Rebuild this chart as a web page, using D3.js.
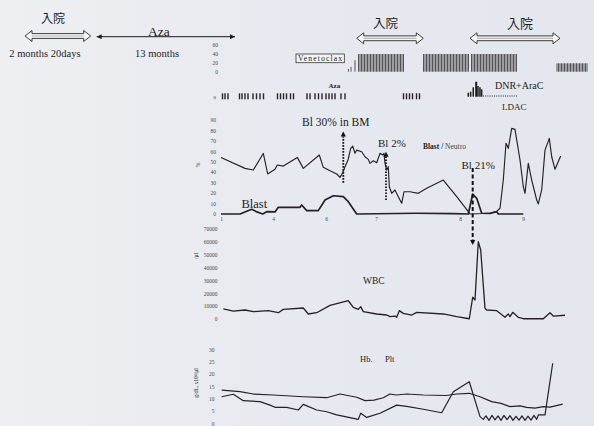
<!DOCTYPE html>
<html>
<head>
<meta charset="utf-8">
<script src="https://cdn.jsdelivr.net/npm/d3@7"></script>
<style>
  html, body { margin: 0; padding: 0; background: #e8eaf0; }
  svg { display: block; }
  text { font-family: "Liberation Serif", "DejaVu Serif", serif; fill: #1c1c1c; }
  .cjk { font-family: "Noto Sans CJK JP", sans-serif; }
  .tk text { font-family: "Liberation Serif", serif; font-size: 5.5px; fill: #4a4a4a; }
</style>
</head>
<body>
<svg id="chart" width="594" height="426"></svg>
<script>
// time axis (day index along the chart) and month tick labels
const monthTicks = [0, 52, 105, 155, 239, 302];
const monthLabels = ["1", "4", "6", "7", "8", "9"];

// Blast / Neutro (%)
const neutroT = [0,24,32.3,42.3,46.7,54,56.3,62.3,76.3,82.3,98.3,102.3,109,115.7,119,121.7,124,127,129.7,131.7,134,135.7,140.7,144,147.3,149,152.3,155.7,159,161.7,163,164,165.7,167.3,168.3,170.7,174,177.3,180.7,183,189,197.3,205.7,222.3,235.7,247.3,249,262,269,275.7,279,282.3,285,287.3,290.7,294,299,302.3,304,307.3,310.7,315.7,317.3,320.7,324,328.3,330.7,334,339.7];
const neutroV = [54,43.7,42.1,58,38.3,42.8,46.9,45.9,54.2,43.7,56.5,44.7,41.4,38.3,35.1,39.5,45.3,51.7,62.9,65.1,58.1,61.2,59.6,54.8,52.3,48.5,51,49.1,58.1,56.5,58.1,48.5,42.1,45.3,26.1,19.8,23,16.6,10.2,21.3,21.3,19.8,24.6,32.5,16.6,2.2,0,0.5,1,2.5,5.5,32.5,67.7,62.9,82,81,51.7,26.1,19.8,48.5,32.5,13.4,9.6,23,61.2,72.4,54.8,42.8,55.5];
const blastT = [0,19,30.7,36,41.7,45.7,54,57.3,79,80.7,85.7,97.3,104,112.3,122.3,127.3,135.7,195.7,232,247.3,251.7,255.7,260.7,269,275.7,277.3,302.3];
const blastV = [0,0,4.5,2,0,2.2,2,6.4,6.4,8.6,3.2,3.2,13.4,17.5,16.6,11.8,0,0.7,0.4,0,19.1,15,0.7,0.5,2.2,0,0];
const pctTicks = [0,10,20,30,40,50,60,70,80,90];

// WBC (/ul)
const wbcT = [2.3,12.3,24,32.3,47.3,57.3,62.3,82.3,87.3,95.7,109,127.3,132.3,137.3,139.7,142.3,155.7,165.7,169,174,175.7,178.3,182.3,190.7,195.7,222.3,235.7,248.3,251.7,254,257.3,259.7,264,265.7,275.7,284,287.3,289,291.7,297.3,302.3,322.3,329,332.3,344];
const wbcV = [7800,6200,7000,5700,6500,4900,7500,8550,3900,4900,10600,14200,9100,7500,9600,5700,3900,3100,1800,2300,1300,6500,4400,3100,5200,3900,1800,200,16900,14800,60100,53700,8300,7000,6500,1300,3900,1800,5200,1300,200,200,4900,2300,2900];
const wbcTicks = [0,10000,20000,30000,40000,50000,60000,70000];

// Hb (g/dL) and Plt (x10^4/ul)
const hbT = [0.7,19,32.3,52.3,82.3,105.7,119,135.7,144,153,162.3,169,175,185.7,202.3,225,235.7,248.3,259,270.7,280,289,299,305.7,314,322.3,329,341.7];
const hbV = [13.5,12.9,11.9,11.5,10.8,10.4,11.9,10.6,9.2,9.4,10.4,11.9,11.5,11.9,11.5,11.3,11.9,12.2,10.8,8.8,8.1,6.8,7.1,6.5,6.2,6.8,6.6,7.8];
const pltT = [0.7,12.3,22.3,39,49,54,65.7,77.3,82.3,95.7,105.7,115.7,137.3,139.7,145.7,159,175.7,185.7,202.3,220.7,232.3,248.3,259,262.3,265,268,271,274,277,280,283,286,289,292,295,298,301,304,307,310,313,315.7,317.3,324,331.7];
const pltV = [10.8,11.8,9.2,8.8,7.4,6.5,6.5,5.4,7.7,5.4,4.7,3.4,1.6,4.1,2.4,4.1,7.4,6.9,5.7,4.3,12.8,16.9,2.7,1.6,3,1.2,3.2,1.4,3,1.2,3.2,1.5,3.1,1.2,2.8,1.3,3,1.2,2.9,1.3,3.2,1.6,3.4,3.4,24.4];
const hbTicks = [0,5,10,15,20,25,30];

// Venetoclax daily dose (x10 mg)
const venRampT = [127.3,130,134];
const venRampDose = [6,11,26];
const venFullT = [137.5,139,140.5,142,143.5,145,146.5,148,149.5,151,152.5,154,155.5,157,158.5,160,161.5,163,164.5,166,167.5,169,170.5,172,173.5,175,176.5,178,179.5,181,182.5,
  202.5,204,205.5,207,208.5,210,211.5,213,214.5,216,217.5,219,220.5,222,223.5,225,226.5,228,229.5,231,232.5,234,235.5,237,238.5,240,241.5,243,244.5,246,247.5,
  250.5,252,253.5,255,256.5,258,259.5,261,262.5,264,265.5,267,268.5,270,271.5,273,274.5,276,277.5,279,280.5,282,283.5,285,286.5,288,289.5,291,292.5,294,295.5];
const venFullDose = 40;
const venLowT = [336,337.5,339,340.5,342,343.5,345,346.5,348,349.5,351,352.5,354,355.5,357,358.5,360,361.5,363,364.5,366];
const venLowDose = 19;
const venTicks = [0,20,40,60];

// Aza days, DNR+AraC, LDAC
const azaT = [1.5,4,7,18.5,21,24,27,32,35.5,39,42.5,56.5,59.5,62.5,65.5,69.5,72.5,86,89,94,97.5,101,105,108,111,114,120,124,182.5,185.5,188.5,191.5,195.5,198.5];
const chemoT = [247.3,249.7,252.3,255,257,259,260.7];
const chemoDose = [4,5,9.4,15,10.7,9.4,7.4];
const ldacSpan = [262,296];

// admissions and the Aza period before the chart
const admissions = [[-196,-130.3],[135.7,202.3],[249,339]];
const azaPeriod = [-124.3,14];

const svg = d3.select("#chart");
const defs = svg.append("defs");
const grad = defs.append("linearGradient").attr("id", "paper");
grad.append("stop").attr("offset", "0").attr("stop-color", "#eeeff2");
grad.append("stop").attr("offset", "0.5").attr("stop-color", "#e7e9f0");
grad.append("stop").attr("offset", "1").attr("stop-color", "#e4e6ee");
defs.append("marker").attr("id", "head").attr("viewBox", "0 0 10 10")
  .attr("refX", 10).attr("refY", 5).attr("markerWidth", 7).attr("markerHeight", 5)
  .attr("markerUnits", "userSpaceOnUse").attr("orient", "auto-start-reverse")
  .append("path").attr("d", "M0,0L10,5L0,10Z").attr("fill", "#1a1a1a");

svg.append("rect").attr("width", 594).attr("height", 426).attr("fill", "url(#paper)");

const x = d3.scaleLinear().domain([0, 345]).range([221, 566]);
const yPct = d3.scaleLinear().domain([0, 90]).range([214, 120]);
const yWbc = d3.scaleLinear().domain([0, 70000]).range([319, 229]);
const yHb = d3.scaleLinear().domain([0, 30]).range([423.3, 349.5]);
const yVen = d3.scaleLinear().domain([0, 60]).range([71.7, 45.15]);
const yAza = d3.scaleLinear().domain([0, 1]).range([99.3, 93.3]);
const yChemo = d3.scaleLinear().domain([0, 15]).range([96.7, 81.7]);

const zip = (ts, vs) => ts.map((t, i) => ({ t, v: vs[i] }));

function drawLine(ts, vs, y, width) {
  svg.append("path")
    .datum(zip(ts, vs))
    .attr("fill", "none")
    .attr("stroke", "#222")
    .attr("stroke-width", width)
    .attr("stroke-linejoin", "round")
    .attr("d", d3.line().x(d => x(d.t)).y(d => y(d.v)));
}

function leftAxis(scale, values, xPos) {
  svg.append("g")
    .attr("class", "tk")
    .attr("transform", `translate(${xPos},0)`)
    .call(d3.axisLeft(scale).tickValues(values).tickSize(0).tickPadding(0).tickFormat(d3.format("d")))
    .call(g => g.select(".domain").remove());
}

function addText(str, px, py, size, opts = {}) {
  const t = svg.append("text").attr("x", px).attr("y", py).attr("font-size", size).text(str);
  if (opts.anchor) t.attr("text-anchor", opts.anchor);
  if (opts.cls) t.attr("class", opts.cls);
  if (opts.weight) t.attr("font-weight", opts.weight);
  if (opts.rotate) t.attr("transform", `rotate(-90,${px},${py})`).attr("text-anchor", "middle");
  return t;
}

function hollowArrow(t0, t1, yc) {
  const x0 = x(t0), x1 = x(t1), h = 7, H = 5.5, s = 2.4;
  const pts = [[x0, yc], [x0 + h, yc - H], [x0 + h, yc - s], [x1 - h, yc - s], [x1 - h, yc - H], [x1, yc],
    [x1 - h, yc + H], [x1 - h, yc + s], [x0 + h, yc + s], [x0 + h, yc + H]];
  svg.append("path").attr("d", "M" + pts.join("L") + "Z")
    .attr("fill", "#f5f5f3").attr("stroke", "#2a2a2a").attr("stroke-width", 0.9);
  svg.append("line").attr("x1", x0 + h).attr("x2", x1 - h).attr("y1", yc).attr("y2", yc)
    .attr("stroke", "#b9b6b0").attr("stroke-width", 1.2);
}

function vArrow(t, y0, y1, dash, w) {
  const xp = x(t);
  const dir = y1 < y0 ? -1 : 1;
  const head = 5;
  svg.append("line").attr("x1", xp).attr("x2", xp).attr("y1", y0).attr("y2", y1 - dir * head)
    .attr("stroke", "#111").attr("stroke-width", w).attr("stroke-dasharray", dash);
  svg.append("path")
    .attr("d", `M${xp - 2.6},${y1 - dir * head}L${xp + 2.6},${y1 - dir * head}L${xp},${y1}Z`)
    .attr("fill", "#111");
}

// ---- top timeline ----
hollowArrow(admissions[0][0], admissions[0][1], 36);
hollowArrow(admissions[1][0], admissions[1][1], 38.3);
hollowArrow(admissions[2][0], admissions[2][1], 38.3);
addText("入院", 53, 22.5, 12, { anchor: "middle", cls: "cjk" });
addText("入院", 385.5, 27.8, 12.5, { anchor: "middle", cls: "cjk" });
addText("入院", 520, 27.8, 13, { anchor: "middle", cls: "cjk" });

svg.append("line")
  .attr("x1", x(azaPeriod[0])).attr("x2", x(azaPeriod[1]))
  .attr("y1", 36.7).attr("y2", 36.7)
  .attr("stroke", "#1a1a1a").attr("stroke-width", 1)
  .attr("marker-start", "url(#head)").attr("marker-end", "url(#head)");
addText("Aza", 148, 36, 13.5);
addText("2 months 20days", 9.3, 57, 10.5);
addText("13 months", 135, 57, 10.5);

// ---- Venetoclax doses ----
svg.append("rect").attr("x", 296).attr("y", 54).attr("width", 48.3).attr("height", 8.7)
  .attr("fill", "#f4f4f4").attr("stroke", "#333").attr("stroke-width", 0.8);
addText("Venetoclax", 298, 61.2, 7.6).attr("textLength", 44);
leftAxis(yVen, venTicks, 218);

const venBars = zip(venRampT, venRampDose)
  .concat(venFullT.map(t => ({ t, v: venFullDose })))
  .concat(venLowT.map(t => ({ t, v: venLowDose })));
svg.append("g").selectAll("rect").data(venBars).join("rect")
  .attr("x", d => x(d.t) - 0.4).attr("width", 0.8)
  .attr("y", d => yVen(d.v)).attr("height", d => yVen(0) - yVen(d.v))
  .attr("fill", "#2e2e2e");

// ---- Aza / DNR+AraC / LDAC ----
addText("0", 216, 98.5, 5).attr("fill", "#555").attr("text-anchor", "end");
svg.append("g").selectAll("rect").data(azaT).join("rect")
  .attr("x", d => x(d) - 0.7).attr("width", 1.4)
  .attr("y", yAza(1)).attr("height", yAza(0) - yAza(1))
  .attr("fill", "#262626");
addText("Aza", 328.5, 88, 7, { weight: "bold" });

svg.append("g").selectAll("rect").data(zip(chemoT, chemoDose)).join("rect")
  .attr("x", d => x(d.t) - 0.8).attr("width", d => d.v === 15 ? 2 : 1.5)
  .attr("y", d => yChemo(d.v)).attr("height", d => yChemo(0) - yChemo(d.v))
  .attr("fill", "#1e1e1e");
svg.append("line").attr("x1", x(ldacSpan[0])).attr("x2", x(ldacSpan[1]))
  .attr("y1", 96).attr("y2", 96)
  .attr("stroke", "#222").attr("stroke-width", 1).attr("stroke-dasharray", "1,1.2");
addText("DNR+AraC", 495, 88.5, 10);
addText("LDAC", 502, 110, 9);

// ---- Blast / Neutro panel ----
leftAxis(yPct, pctTicks, 216);
addText("%", 200, 165, 6, { rotate: true });
svg.append("g")
  .attr("class", "tk")
  .attr("transform", "translate(0,217.5)")
  .call(d3.axisBottom(x).tickValues(monthTicks).tickSize(0).tickPadding(0).tickFormat((d, i) => monthLabels[i]))
  .call(g => g.select(".domain").remove());

drawLine(neutroT, neutroV, yPct, 1.15);
drawLine(blastT, blastV, yPct, 1.7);

addText("Blast", 241.5, 208, 12.5);
const bn = addText("", 423, 149.3, 7.5);
bn.append("tspan").attr("font-weight", "bold").text("Blast /");
bn.append("tspan").attr("fill", "#444").text(" Neutro");

vArrow(122.3, yPct(30), yPct(79), "1.6,1.4", 1.8);
vArrow(165, yPct(13.4), yPct(59.6), "1.6,1.4", 1.8);
vArrow(251.7, yPct(44), yWbc(57500), "4,2.5", 2);
addText("Bl 30% in BM", 302, 125.5, 11.5);
addText("Bl 2%", 378, 146.5, 11);
addText("Bl 21%", 461.5, 169, 11);

// ---- WBC panel ----
leftAxis(yWbc, wbcTicks, 217.5);
addText("/μl", 198, 256, 5.5, { rotate: true });
drawLine(wbcT, wbcV, yWbc, 1.3);
addText("WBC", 363, 283.5, 9.5);

// ---- Hb / Plt panel ----
leftAxis(yHb, hbTicks, 214.5);
addText("g/dL, x10⁴/μl", 198, 383, 5.5, { rotate: true });
drawLine(hbT, hbV, yHb, 1.2);
drawLine(pltT, pltV, yHb, 1.2);
addText("Hb.", 360, 362.3, 8.5);
addText("Plt", 385, 362.3, 8.5);
</script>
</body>
</html>
